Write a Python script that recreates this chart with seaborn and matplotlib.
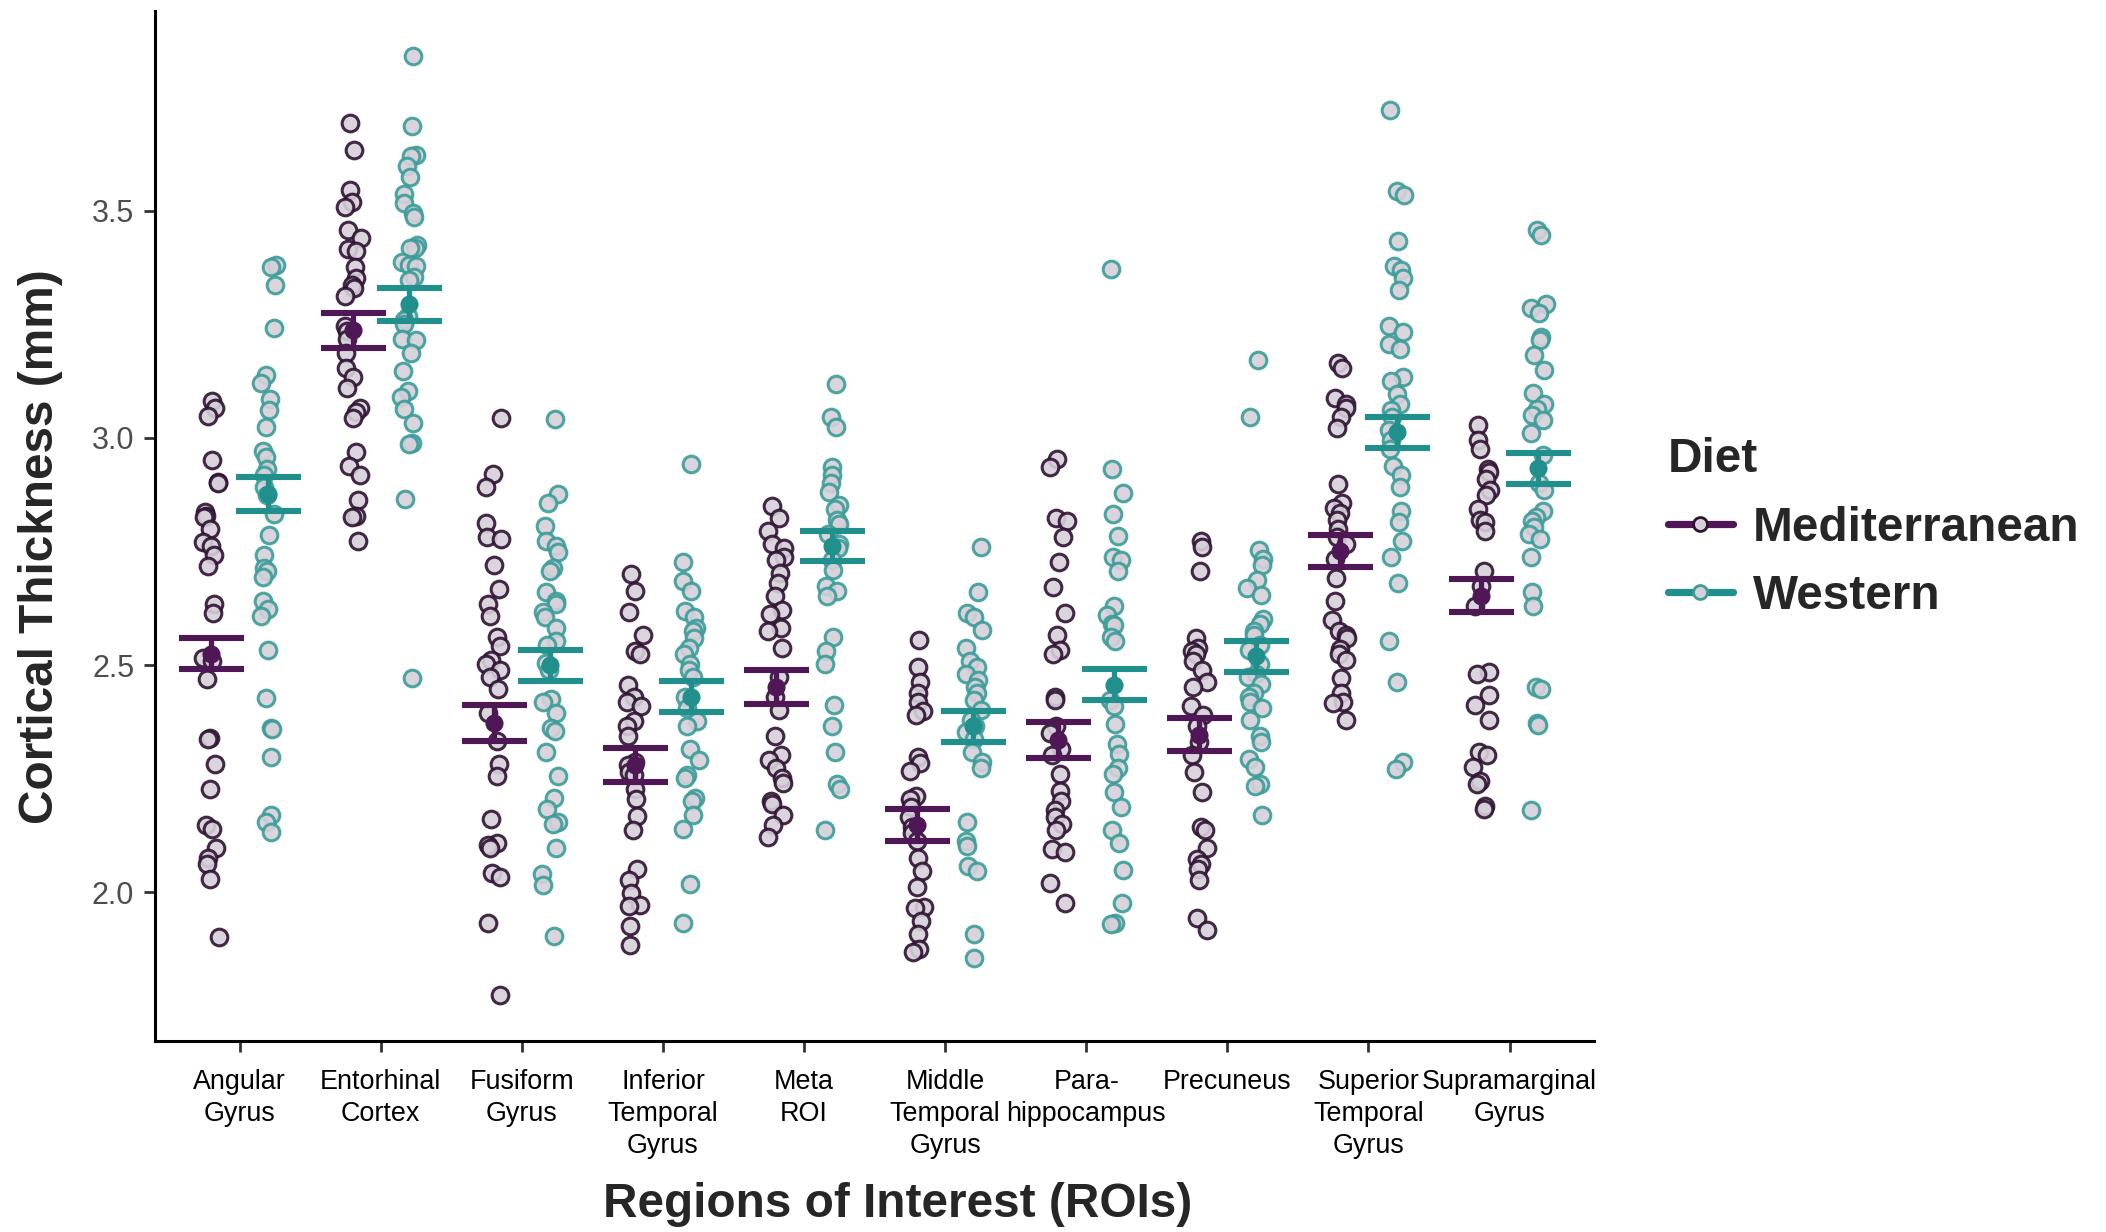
import numpy as np
import pandas as pd
import matplotlib.pyplot as plt
import seaborn as sns
from matplotlib.lines import Line2D

# ── Data ──────────────────────────────────────────────────────
roi_labels = ['Angular\nGyrus', 'Entorhinal\nCortex', 'Fusiform\nGyrus',
              'Inferior\nTemporal\nGyrus', 'Meta\nROI', 'Middle\nTemporal\nGyrus',
              'Para-\nhippocampus', 'Precuneus', 'Superior\nTemporal\nGyrus',
              'Supramarginal\nGyrus']
diets = ['Mediterranean', 'Western']

angular_med = [3.082, 3.065, 3.049, 2.951, 2.903, 2.901, 2.836, 2.829, 2.825, 2.799,
               2.771, 2.763, 2.743, 2.717, 2.635, 2.614, 2.516, 2.509, 2.469, 2.340,
               2.337, 2.283, 2.226, 2.147, 2.140, 2.098, 2.075, 2.061, 2.029, 1.900]
angular_west = [3.380, 3.376, 3.337, 3.243, 3.138, 3.122, 3.085, 3.061, 3.024, 2.972,
                2.958, 2.932, 2.918, 2.893, 2.875, 2.832, 2.786, 2.743, 2.713, 2.706,
                2.693, 2.642, 2.624, 2.607, 2.534, 2.428, 2.362, 2.359, 2.297, 2.170,
                2.154, 2.132]
entorhinal_med = [3.694, 3.634, 3.545, 3.519, 3.509, 3.459, 3.441, 3.416, 3.412, 3.376,
                  3.352, 3.337, 3.330, 3.312, 3.247, 3.236, 3.219, 3.187, 3.154, 3.135,
                  3.111, 3.065, 3.057, 3.044, 2.968, 2.939, 2.918, 2.863, 2.829, 2.825,
                  2.774]
entorhinal_west = [3.842, 3.687, 3.624, 3.620, 3.598, 3.574, 3.538, 3.517, 3.495, 3.486,
                   3.426, 3.419, 3.419, 3.388, 3.380, 3.379, 3.355, 3.348, 3.269, 3.259,
                   3.250, 3.219, 3.216, 3.186, 3.147, 3.104, 3.090, 3.064, 3.032, 2.989,
                   2.986, 2.865, 2.471]
fusiform_med = [3.044, 2.920, 2.893, 2.813, 2.781, 2.778, 2.721, 2.667, 2.635, 2.607,
                2.562, 2.542, 2.512, 2.502, 2.488, 2.473, 2.448, 2.394, 2.333, 2.283,
                2.255, 2.161, 2.108, 2.104, 2.098, 2.041, 2.034, 1.933, 1.774]
fusiform_west = [3.042, 2.877, 2.857, 2.806, 2.774, 2.763, 2.748, 2.713, 2.706, 2.660,
                 2.641, 2.634, 2.617, 2.605, 2.581, 2.552, 2.545, 2.505, 2.488, 2.426,
                 2.419, 2.394, 2.362, 2.354, 2.309, 2.255, 2.208, 2.182, 2.154, 2.151,
                 2.098, 2.039, 2.015, 1.903]
inferior_med = [2.700, 2.664, 2.617, 2.566, 2.531, 2.524, 2.456, 2.430, 2.419, 2.409,
                2.376, 2.366, 2.344, 2.287, 2.280, 2.265, 2.258, 2.227, 2.205, 2.168,
                2.137, 2.051, 2.026, 1.998, 1.972, 1.969, 1.926, 1.883]
inferior_west = [2.942, 2.727, 2.684, 2.662, 2.620, 2.605, 2.581, 2.574, 2.559, 2.538,
                 2.524, 2.502, 2.488, 2.473, 2.430, 2.405, 2.376, 2.366, 2.316, 2.290,
                 2.258, 2.251, 2.208, 2.201, 2.170, 2.139, 2.018, 1.933]
meta_med = [2.850, 2.824, 2.796, 2.767, 2.757, 2.738, 2.731, 2.703, 2.681, 2.653,
            2.621, 2.612, 2.581, 2.574, 2.538, 2.473, 2.430, 2.402, 2.344, 2.301,
            2.290, 2.273, 2.251, 2.241, 2.201, 2.194, 2.170, 2.148, 2.122]
meta_west = [3.118, 3.047, 3.025, 2.936, 2.918, 2.901, 2.882, 2.853, 2.843, 2.820,
             2.810, 2.789, 2.767, 2.757, 2.731, 2.710, 2.674, 2.663, 2.653, 2.562,
             2.531, 2.502, 2.412, 2.366, 2.309, 2.237, 2.227, 2.137]
middle_med = [2.556, 2.495, 2.462, 2.438, 2.419, 2.399, 2.390, 2.297, 2.284, 2.266,
              2.212, 2.204, 2.187, 2.165, 2.144, 2.130, 2.112, 2.076, 2.046, 2.011,
              1.968, 1.965, 1.936, 1.907, 1.874, 1.869]
middle_west = [2.760, 2.660, 2.614, 2.605, 2.578, 2.538, 2.509, 2.495, 2.481, 2.466,
               2.452, 2.438, 2.423, 2.402, 2.380, 2.366, 2.352, 2.337, 2.309, 2.287,
               2.273, 2.155, 2.112, 2.101, 2.058, 2.046, 1.907, 1.854]
para_med = [2.953, 2.935, 2.824, 2.817, 2.781, 2.727, 2.671, 2.614, 2.566, 2.534,
            2.524, 2.430, 2.423, 2.366, 2.351, 2.316, 2.301, 2.261, 2.223, 2.201,
            2.180, 2.165, 2.151, 2.137, 2.094, 2.089, 2.019, 1.976]
para_west = [3.372, 2.932, 2.879, 2.832, 2.784, 2.738, 2.731, 2.706, 2.631, 2.610,
             2.591, 2.588, 2.562, 2.552, 2.423, 2.409, 2.370, 2.327, 2.304, 2.273,
             2.261, 2.220, 2.187, 2.137, 2.108, 2.048, 1.976, 1.932, 1.929]
precuneus_med = [2.774, 2.760, 2.706, 2.559, 2.538, 2.531, 2.524, 2.509, 2.488, 2.462,
                 2.452, 2.409, 2.390, 2.366, 2.330, 2.301, 2.265, 2.220, 2.144, 2.137,
                 2.098, 2.072, 2.061, 2.051, 2.026, 1.943, 1.917]
precuneus_west = [3.171, 3.047, 2.753, 2.734, 2.720, 2.688, 2.670, 2.655, 2.602, 2.591,
                  2.574, 2.566, 2.545, 2.534, 2.502, 2.481, 2.473, 2.459, 2.438, 2.430,
                  2.419, 2.405, 2.380, 2.344, 2.330, 2.294, 2.276, 2.237, 2.233, 2.170]
superior_med = [3.165, 3.154, 3.087, 3.075, 3.065, 3.047, 3.021, 2.899, 2.857, 2.846,
                2.834, 2.820, 2.799, 2.781, 2.767, 2.734, 2.691, 2.641, 2.600, 2.574,
                2.567, 2.559, 2.535, 2.524, 2.512, 2.471, 2.438, 2.419, 2.416, 2.380]
superior_west = [3.723, 3.544, 3.534, 3.433, 3.379, 3.369, 3.352, 3.326, 3.247, 3.233,
                 3.207, 3.197, 3.135, 3.125, 3.097, 3.075, 3.061, 3.047, 3.018, 2.996,
                 2.975, 2.939, 2.918, 2.892, 2.839, 2.814, 2.774, 2.738, 2.681, 2.552,
                 2.462, 2.287, 2.270]
supramarginal_med = [3.029, 2.996, 2.975, 2.932, 2.925, 2.910, 2.886, 2.875, 2.843, 2.820,
                     2.814, 2.796, 2.706, 2.674, 2.631, 2.485, 2.481, 2.435, 2.413, 2.380,
                     2.309, 2.301, 2.276, 2.244, 2.237, 2.190, 2.184]
supramarginal_west = [3.459, 3.448, 3.295, 3.286, 3.276, 3.223, 3.216, 3.183, 3.150, 3.100,
                      3.075, 3.064, 3.050, 3.039, 3.011, 2.963, 2.900, 2.886, 2.839, 2.825,
                      2.817, 2.803, 2.789, 2.777, 2.738, 2.660, 2.631, 2.452, 2.448, 2.373,
                      2.369, 2.180]

# group means and standard errors (error bars)
med_mean = [2.525, 3.237, 2.372, 2.280, 2.451, 2.148, 2.335, 2.347, 2.751, 2.653]
med_se = [0.034, 0.039, 0.039, 0.037, 0.037, 0.036, 0.039, 0.036, 0.036, 0.036]
west_mean = [2.877, 3.294, 2.499, 2.430, 2.762, 2.365, 2.457, 2.519, 3.013, 2.933]
west_se = [0.037, 0.037, 0.035, 0.034, 0.034, 0.034, 0.034, 0.034, 0.034, 0.034]

med_points = [angular_med, entorhinal_med, fusiform_med, inferior_med, meta_med,
              middle_med, para_med, precuneus_med, superior_med, supramarginal_med]
west_points = [angular_west, entorhinal_west, fusiform_west, inferior_west, meta_west,
               middle_west, para_west, precuneus_west, superior_west, supramarginal_west]

rows = []
for roi, m_vals, w_vals in zip(roi_labels, med_points, west_points):
    rows += [(roi, 'Mediterranean', v) for v in m_vals]
    rows += [(roi, 'Western', v) for v in w_vals]
df = pd.DataFrame(rows, columns=['roi', 'diet', 'thickness'])

# ── Style ─────────────────────────────────────────────────────
MED = '#4f1756'
WEST = '#21908c'
MED_EDGE = '#2e1232'
WEST_EDGE = '#3a9d99'
FILL = '#d6d1d9'

sns.set_theme(style='ticks')
plt.rcParams['font.family'] = ['Liberation Sans', 'DejaVu Sans']

fig, ax = plt.subplots(figsize=(10.53, 6.16), dpi=200)
fig.subplots_adjust(left=0.0736, right=0.757, bottom=0.155, top=0.991)

np.random.seed(3)
sns.stripplot(data=df, x='roi', y='thickness', hue='diet', order=roi_labels,
              hue_order=diets, palette=[MED_EDGE, WEST_EDGE], dodge=True,
              jitter=0.12, size=6.0, linewidth=1.1, legend=False, ax=ax)

# hue colour goes on the outline, fill is light grey
for coll in ax.collections:
    fc = coll.get_facecolor()
    if len(fc):
        coll.set_edgecolor(fc[0])
        coll.set_facecolor(FILL)
        coll.set_alpha(0.9)

x = np.arange(len(roi_labels))
ax.errorbar(x - 0.2, med_mean, yerr=med_se, fmt='o', color=MED, ms=5.5,
            capsize=11.7, capthick=2.2, elinewidth=1.9, zorder=5)
ax.errorbar(x + 0.2, west_mean, yerr=west_se, fmt='o', color=WEST, ms=5.5,
            capsize=11.7, capthick=2.2, elinewidth=1.9, zorder=5)

ax.set_xlim(-0.6, 9.6)
ax.set_ylim(1.672, 3.94)
ax.set_yticks([2.0, 2.5, 3.0, 3.5])
ax.set_yticklabels(['2.0', '2.5', '3.0', '3.5'])
ax.tick_params(axis='both', length=4, width=1, color='#333333')
ax.tick_params(axis='y', labelsize=11, labelcolor='#4d4d4d')
ax.tick_params(axis='x', labelsize=9.7, labelcolor='black', pad=6)
for lab in ax.get_xticklabels():
    lab.set_linespacing(1.3)
sns.despine(ax=ax)
for side in ['left', 'bottom']:
    ax.spines[side].set_linewidth(1.1)
    ax.spines[side].set_color('black')

ax.set_xlabel('Regions of Interest (ROIs)', fontsize=17.2, fontweight='bold')
ax.set_ylabel('Cortical Thickness (mm)', fontsize=17.2, fontweight='bold')
ax.xaxis.label.set_va('center')
ax.yaxis.label.set_va('center')
ax.xaxis.set_label_coords(0.516, -0.159)
ax.yaxis.set_label_coords(-0.0799, 0.48)

handles = [Line2D([0], [0], color=MED, lw=2.6, marker='o', ms=5,
                  markerfacecolor=FILL, markeredgecolor=MED_EDGE),
           Line2D([0], [0], color=WEST, lw=2.6, marker='o', ms=5,
                  markerfacecolor=FILL, markeredgecolor=WEST_EDGE)]
fig.legend(handles, diets, title='Diet', loc='upper left', bbox_to_anchor=(0.7715, 0.68),
           frameon=False, prop={'size': 17.2, 'weight': 'bold'},
           title_fontproperties={'size': 17.2, 'weight': 'bold'}, alignment='left',
           handlelength=1.36, handletextpad=0.42, labelspacing=0.49)

fig.savefig('out.png', dpi=200)
